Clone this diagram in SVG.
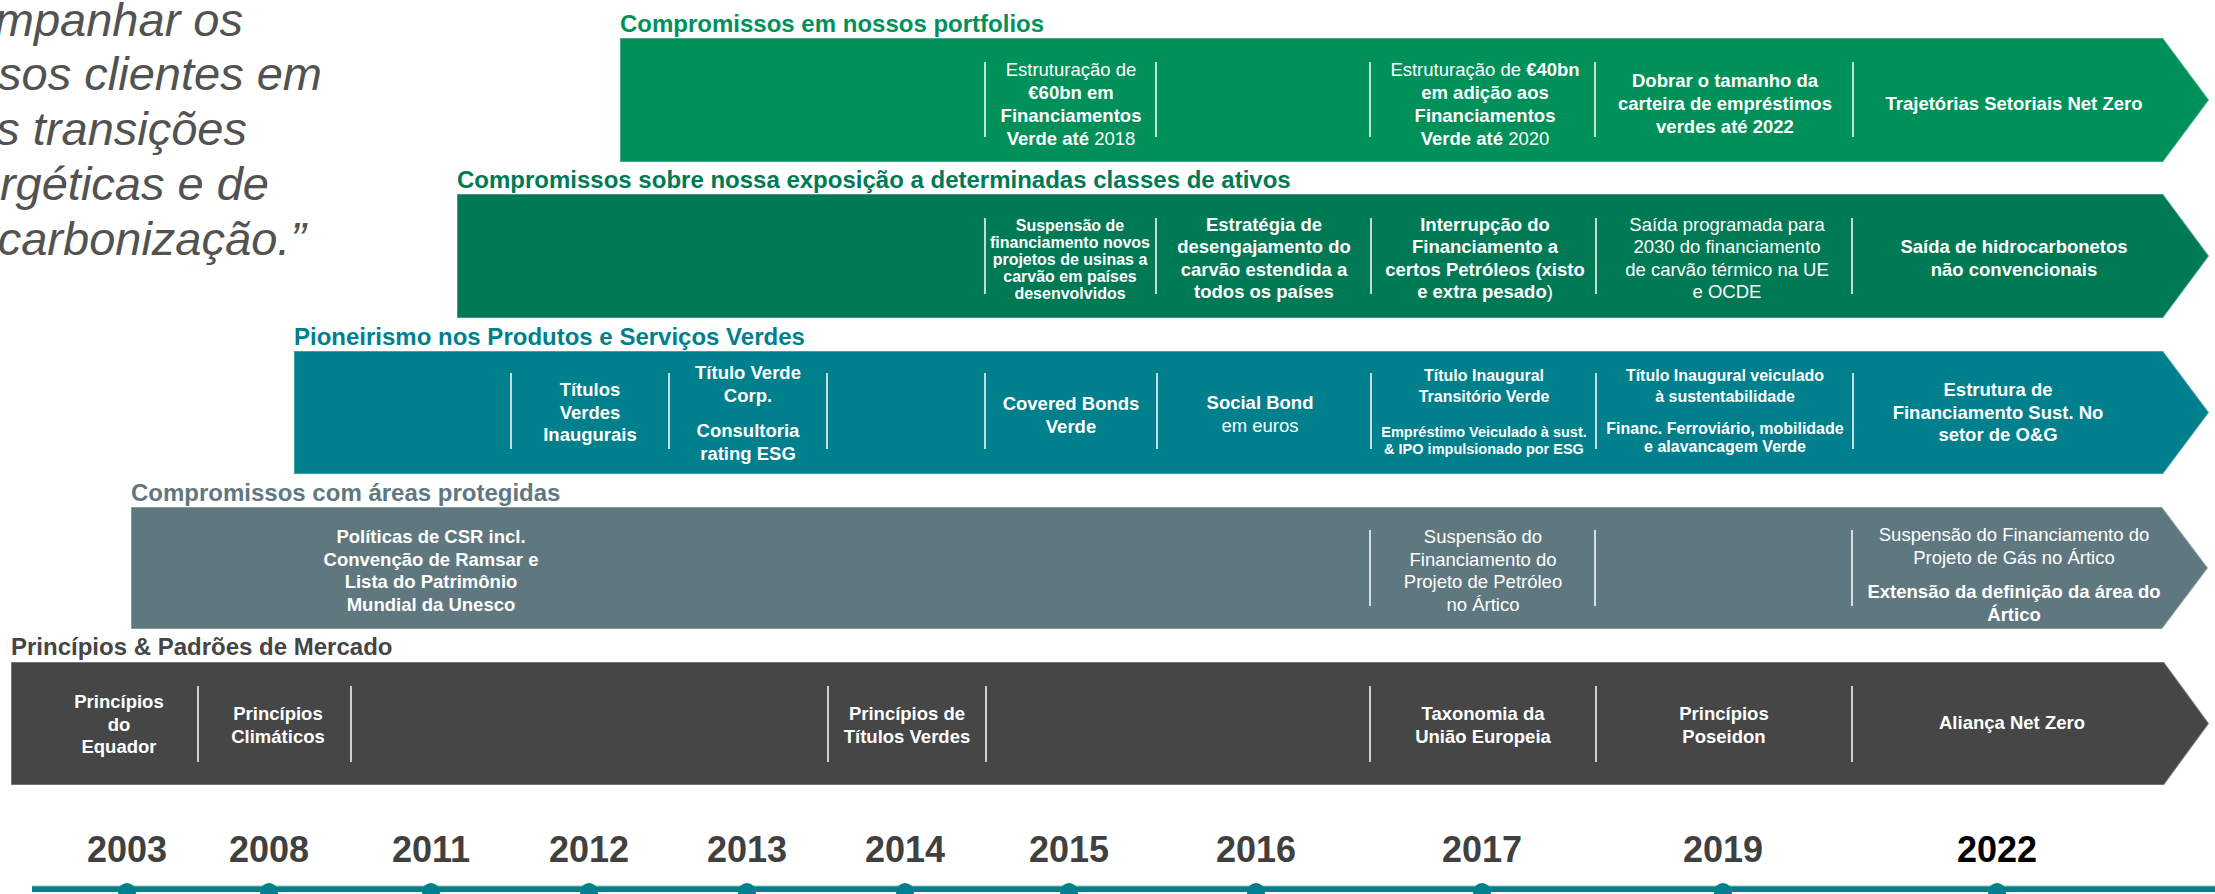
<svg xmlns="http://www.w3.org/2000/svg" width="2215" height="894" viewBox="0 0 2215 894">
<style>
.lbl{font-family:"Liberation Sans",Arial,sans-serif;font-weight:bold;font-size:24px}
.t{font-family:"Liberation Sans",Arial,sans-serif;fill:#fff;text-anchor:middle;font-size:18.5px}
.b{font-weight:bold}
.r{font-weight:normal}
.s16{font-size:16px}
.s145{font-size:14.5px}
.div{stroke:#fff;stroke-width:1.5}
.band{stroke:#fff;stroke-opacity:0.25;stroke-width:2}
.yr{font-family:"Liberation Sans",Arial,sans-serif;font-weight:bold;font-size:36px;text-anchor:middle;fill:#404040}
.q{font-family:"Liberation Sans",Arial,sans-serif;font-style:italic;font-size:47px;fill:#525252;text-anchor:end}
.dot{fill:#00808C}
</style>

<g id="quote">
<text class="q" x="243" y="36">mpanhar os</text>
<text class="q" x="322" y="90">sos clientes em</text>
<text class="q" x="247" y="145">s transições</text>
<text class="q" x="269" y="200">rgéticas e de</text>
<text class="q" x="306" y="255">carbonização.”</text>
</g>

<g id="band-portfolios">
<text class="lbl" x="620" y="32" fill="#00915A">Compromissos em nossos portfolios</text>
<path class="band" d="M620,38 H2163 L2209,100 L2163,162 H620 Z" fill="#00915A"/>
<line class="div" x1="985" y1="62" x2="985" y2="137"/>
<line class="div" x1="1156" y1="62" x2="1156" y2="137"/>
<line class="div" x1="1370" y1="62" x2="1370" y2="137"/>
<line class="div" x1="1595" y1="62" x2="1595" y2="137"/>
<line class="div" x1="1853" y1="62" x2="1853" y2="137"/>
<g class="t">
<text x="1071" y="76" class="r">Estruturação de</text>
<text x="1071" y="99" class="b">€60bn em</text>
<text x="1071" y="122" class="b">Financiamentos</text>
<text x="1071" y="145"><tspan class="b">Verde até</tspan> <tspan class="r">2018</tspan></text>
<text x="1485" y="76"><tspan class="r">Estruturação de</tspan> <tspan class="b">€40bn</tspan></text>
<text x="1485" y="99" class="b">em adição aos</text>
<text x="1485" y="122" class="b">Financiamentos</text>
<text x="1485" y="145"><tspan class="b">Verde até</tspan> <tspan class="r">2020</tspan></text>
<text x="1725" y="87" class="b">Dobrar o tamanho da</text>
<text x="1725" y="110" class="b">carteira de empréstimos</text>
<text x="1725" y="133" class="b">verdes até 2022</text>
<text x="2014" y="110" class="b">Trajetórias Setoriais Net Zero</text>
</g>
</g>

<g id="band-exposicao">
<text class="lbl" x="457" y="188" fill="#007A55">Compromissos sobre nossa exposição a determinadas classes de ativos</text>
<path class="band" d="M457,194 H2163 L2209,256 L2163,318 H457 Z" fill="#007A55"/>
<line class="div" x1="985" y1="218" x2="985" y2="294"/>
<line class="div" x1="1156" y1="218" x2="1156" y2="294"/>
<line class="div" x1="1371" y1="218" x2="1371" y2="294"/>
<line class="div" x1="1596" y1="218" x2="1596" y2="294"/>
<line class="div" x1="1852" y1="218" x2="1852" y2="294"/>
<g class="t">
<text x="1070" y="231" class="b s16">Suspensão de</text>
<text x="1070" y="248" class="b s16">financiamento novos</text>
<text x="1070" y="265" class="b s16">projetos de usinas a</text>
<text x="1070" y="282" class="b s16">carvão em países</text>
<text x="1070" y="299" class="b s16">desenvolvidos</text>
<text x="1264" y="231" class="b">Estratégia de</text>
<text x="1264" y="253" class="b">desengajamento do</text>
<text x="1264" y="276" class="b">carvão estendida a</text>
<text x="1264" y="298" class="b">todos os países</text>
<text x="1485" y="231" class="b">Interrupção do</text>
<text x="1485" y="253" class="b">Financiamento a</text>
<text x="1485" y="276" class="b">certos Petróleos (xisto</text>
<text x="1485" y="298"><tspan class="b">e extra pesado</tspan><tspan class="r">)</tspan></text>
<text x="1727" y="231" class="r">Saída programada para</text>
<text x="1727" y="253" class="r">2030 do financiamento</text>
<text x="1727" y="276" class="r">de carvão térmico na UE</text>
<text x="1727" y="298" class="r">e OCDE</text>
<text x="2014" y="253" class="b">Saída de hidrocarbonetos</text>
<text x="2014" y="276" class="b">não convencionais</text>
</g>
</g>

<g id="band-produtos">
<text class="lbl" x="294" y="345" fill="#00808C">Pioneirismo nos Produtos e Serviços Verdes</text>
<path class="band" d="M294,351 H2163 L2209,412.5 L2163,474 H294 Z" fill="#00808C"/>
<line class="div" x1="511" y1="373" x2="511" y2="449"/>
<line class="div" x1="669" y1="373" x2="669" y2="449"/>
<line class="div" x1="827" y1="373" x2="827" y2="449"/>
<line class="div" x1="985" y1="373" x2="985" y2="449"/>
<line class="div" x1="1157" y1="373" x2="1157" y2="449"/>
<line class="div" x1="1371" y1="373" x2="1371" y2="449"/>
<line class="div" x1="1596" y1="373" x2="1596" y2="449"/>
<line class="div" x1="1853" y1="373" x2="1853" y2="449"/>
<g class="t">
<text x="590" y="396" class="b">Títulos</text>
<text x="590" y="419" class="b">Verdes</text>
<text x="590" y="441" class="b">Inaugurais</text>
<text x="748" y="379" class="b">Título Verde</text>
<text x="748" y="402" class="b">Corp.</text>
<text x="748" y="437" class="b">Consultoria</text>
<text x="748" y="460" class="b">rating ESG</text>
<text x="1071" y="410" class="b">Covered Bonds</text>
<text x="1071" y="433" class="b">Verde</text>
<text x="1260" y="409" class="b">Social Bond</text>
<text x="1260" y="432" class="r">em euros</text>
<text x="1484" y="381" class="b s16">Título Inaugural</text>
<text x="1484" y="402" class="b s16">Transitório Verde</text>
<text x="1484" y="437" class="b s145">Empréstimo Veiculado à sust.</text>
<text x="1484" y="454" class="b s145">&amp; IPO impulsionado por ESG</text>
<text x="1725" y="381" class="b s16">Título Inaugural veiculado</text>
<text x="1725" y="402" class="b s16">à sustentabilidade</text>
<text x="1725" y="434" class="b s16">Financ. Ferroviário, mobilidade</text>
<text x="1725" y="452" class="b s16">e alavancagem Verde</text>
<text x="1998" y="396" class="b">Estrutura de</text>
<text x="1998" y="419" class="b">Financiamento Sust. No</text>
<text x="1998" y="441" class="b">setor de O&amp;G</text>
</g>
</g>

<g id="band-areas">
<text class="lbl" x="131" y="501" fill="#5F7880">Compromissos com áreas protegidas</text>
<path class="band" d="M131,507 H2162 L2208,568 L2162,629 H131 Z" fill="#5F7880"/>
<line class="div" x1="1370" y1="530" x2="1370" y2="606"/>
<line class="div" x1="1595" y1="530" x2="1595" y2="606"/>
<line class="div" x1="1852" y1="530" x2="1852" y2="606"/>
<g class="t">
<text x="431" y="543" class="b">Políticas de CSR incl.</text>
<text x="431" y="566" class="b">Convenção de Ramsar e</text>
<text x="431" y="588" class="b">Lista do Patrimônio</text>
<text x="431" y="611" class="b">Mundial da Unesco</text>
<text x="1483" y="543" class="r">Suspensão do</text>
<text x="1483" y="566" class="r">Financiamento do</text>
<text x="1483" y="588" class="r">Projeto de Petróleo</text>
<text x="1483" y="611" class="r">no Ártico</text>
<text x="2014" y="541" class="r">Suspensão do Financiamento do</text>
<text x="2014" y="564" class="r">Projeto de Gás no Ártico</text>
<text x="2014" y="598" class="b">Extensão da definição da área do</text>
<text x="2014" y="621" class="b">Ártico</text>
</g>
</g>

<g id="band-principios">
<text class="lbl" x="11" y="655" fill="#454545">Princípios &amp; Padrões de Mercado</text>
<path class="band" d="M11,662 H2164 L2209,723.5 L2164,785 H11 Z" fill="#464646"/>
<line class="div" x1="198" y1="686" x2="198" y2="762"/>
<line class="div" x1="351" y1="686" x2="351" y2="762"/>
<line class="div" x1="828" y1="686" x2="828" y2="762"/>
<line class="div" x1="986" y1="686" x2="986" y2="762"/>
<line class="div" x1="1370" y1="686" x2="1370" y2="762"/>
<line class="div" x1="1596" y1="686" x2="1596" y2="762"/>
<line class="div" x1="1852" y1="686" x2="1852" y2="762"/>
<g class="t">
<text x="119" y="708" class="b">Princípios</text>
<text x="119" y="731" class="b">do</text>
<text x="119" y="753" class="b">Equador</text>
<text x="278" y="720" class="b">Princípios</text>
<text x="278" y="743" class="b">Climáticos</text>
<text x="907" y="720" class="b">Princípios de</text>
<text x="907" y="743" class="b">Títulos Verdes</text>
<text x="1483" y="720" class="b">Taxonomia da</text>
<text x="1483" y="743" class="b">União Europeia</text>
<text x="1724" y="720" class="b">Princípios</text>
<text x="1724" y="743" class="b">Poseidon</text>
<text x="2012" y="729" class="b">Aliança Net Zero</text>
</g>
</g>

<g id="timeline">
<text class="yr" x="127" y="862">2003</text>
<text class="yr" x="269" y="862">2008</text>
<text class="yr" x="431" y="862">2011</text>
<text class="yr" x="589" y="862">2012</text>
<text class="yr" x="747" y="862">2013</text>
<text class="yr" x="905" y="862">2014</text>
<text class="yr" x="1069" y="862">2015</text>
<text class="yr" x="1256" y="862">2016</text>
<text class="yr" x="1482" y="862">2017</text>
<text class="yr" x="1723" y="862">2019</text>
<text class="yr" x="1997" y="862" style="fill:#000">2022</text>
</g>

<g id="connectors">
<rect x="32" y="886" width="2183" height="6" fill="#00808C"/>
<line x1="32" y1="886" x2="2215" y2="886" stroke="#8fbfc4" stroke-width="1"/>
<circle class="dot" cx="127" cy="892" r="9"/>
<circle class="dot" cx="269" cy="892" r="9"/>
<circle class="dot" cx="431" cy="892" r="9"/>
<circle class="dot" cx="589" cy="892" r="9"/>
<circle class="dot" cx="747" cy="892" r="9"/>
<circle class="dot" cx="905" cy="892" r="9"/>
<circle class="dot" cx="1069" cy="892" r="9"/>
<circle class="dot" cx="1256" cy="892" r="9"/>
<circle class="dot" cx="1482" cy="892" r="9"/>
<circle class="dot" cx="1723" cy="892" r="9"/>
<circle class="dot" cx="1997" cy="892" r="9"/>
</g>
</svg>
